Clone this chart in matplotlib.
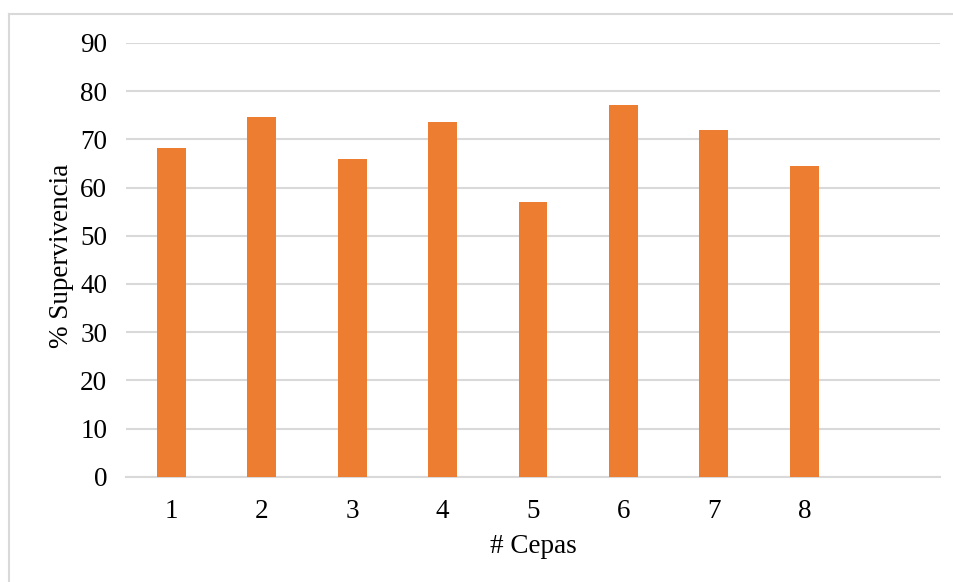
import matplotlib
matplotlib.use("Agg")
import matplotlib.pyplot as plt
from matplotlib.lines import Line2D

# Survival percentage per strain
cepas = [1, 2, 3, 4, 5, 6, 7, 8]
supervivencia = [68.3, 74.6, 65.9, 73.6, 57.0, 77.1, 71.9, 64.5]
y_ticks = [0, 10, 20, 30, 40, 50, 60, 70, 80, 90]

plt.rcParams['font.family'] = ['Liberation Serif', 'DejaVu Serif']
FS = 19.5

fig = plt.figure(figsize=(9.54, 5.82), dpi=100)
ax = fig.add_axes([126 / 954, 1 - 476.7 / 582, (940 - 126) / 954, (476.7 - 43) / 582])

ax.bar(cepas, supervivencia, width=0.32, color='#ED7D31', zorder=3)

ax.set_xlim(0.5, 9.5)
ax.set_ylim(0, 90)
ax.set_yticks(y_ticks)
ax.set_xticks(cepas)
ax.set_xticklabels([str(c) for c in cepas])

ax.yaxis.grid(True, color='#d9d9d9', linewidth=1.5, zorder=0)
ax.set_axisbelow(True)
for side in ['top', 'right', 'left']:
    ax.spines[side].set_visible(False)
ax.spines['bottom'].set_color('#d9d9d9')
ax.spines['bottom'].set_linewidth(1.5)

ax.tick_params(axis='both', length=0, labelsize=FS, colors='#000000')
ax.tick_params(axis='y', pad=13.5)
ax.tick_params(axis='x', pad=16)

ax.set_xlabel('# Cepas', fontsize=FS, labelpad=7)
ax.set_ylabel('% Supervivencia', fontsize=FS)
ax.yaxis.set_label_coords(-0.064, 0.51)

# Chart frame (left and top edges)
fig.add_artist(Line2D([9.5 / 954, 9.5 / 954], [0, 1 - 13.5 / 582],
                      transform=fig.transFigure, color='#d9d9d9', linewidth=1.5))
fig.add_artist(Line2D([9.5 / 954, 1], [1 - 13.5 / 582, 1 - 13.5 / 582],
                      transform=fig.transFigure, color='#d9d9d9', linewidth=1.5))

fig.savefig('out.png', dpi=100)
